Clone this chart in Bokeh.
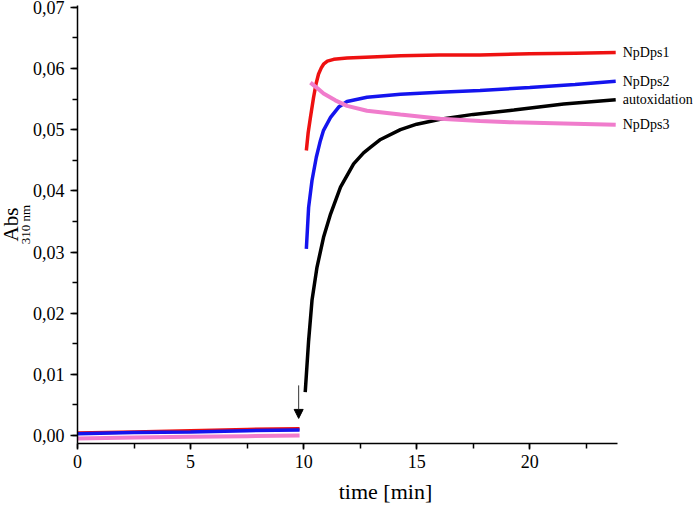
import math
from bokeh.plotting import figure
from bokeh.models import (Range1d, SingleIntervalTicker, CustomJSTickFormatter,
                          Label, Arrow, NormalHead, Title)
from bokeh.embed import file_html
from bokeh.resources import INLINE

nan = float("nan")

# ---- data (time in min, absorbance at 310 nm); NaN separates baseline and kinetic parts
red_t = [0, 2.5, 5, 7.5, 9.82, nan, 10.12, 10.2, 10.3, 10.44, 10.55, 10.66, 10.78, 10.88,
         11.05, 11.33, 11.92, 13, 14.3, 16, 17.8, 20, 22, 23.8]
red_abs = [0.0004, 0.0006, 0.0008, 0.0010, 0.0011, nan, 0.0466, 0.0495, 0.0520, 0.0553,
           0.0575, 0.0591, 0.0601, 0.0607, 0.0612, 0.0615, 0.0617, 0.0619, 0.0621,
           0.0622, 0.0622, 0.0624, 0.0625, 0.0626]

blue_t = [0, 2.5, 5, 7.5, 9.82, nan, 10.12, 10.22, 10.37, 10.56, 10.74, 10.88, 11.19,
          11.55, 11.92, 12.8, 14.28, 16, 17.8, 20, 22, 23.8]
blue_abs = [0.0003, 0.0005, 0.0006, 0.0008, 0.0009, nan, 0.0305, 0.0373, 0.0417, 0.0455,
            0.0482, 0.0499, 0.0520, 0.0537, 0.0546, 0.0553, 0.0558, 0.0561, 0.0564,
            0.0569, 0.0574, 0.0579]

black_t = [10.07, 10.22, 10.37, 10.59, 10.88, 11.19, 11.63, 12.21, 12.65, 12.95, 13.4,
           14.28, 15, 16.04, 17.5, 19.3, 21.5, 23.8]
black_abs = [0.0071, 0.0155, 0.0221, 0.0275, 0.0324, 0.0362, 0.0406, 0.0444, 0.0462,
             0.0471, 0.0484, 0.0500, 0.0509, 0.0517, 0.0525, 0.0532, 0.0542, 0.0549]

pink_t = [0, 2.5, 5, 7.5, 9.82, nan, 10.3, 10.6, 10.88, 11.4, 11.92, 12.8, 14.28, 16.04,
          17.8, 19.3, 21.5, 23.8]
pink_abs = [-0.0005, -0.0003, -0.0002, -0.0001, 0.0000, nan, 0.0577, 0.0568, 0.0559,
            0.0548, 0.0539, 0.0531, 0.0525, 0.0518, 0.0514, 0.0512, 0.0510, 0.0508]

series_names = ["NpDps1", "NpDps2", "autoxidation", "NpDps3"]

# injection arrow (time, abs start -> end)
arrow_t = 9.78
arrow_abs = [0.0082, 0.0028]

FONT = "Liberation Serif"
X_AXIS_END = 23.88

p = figure(width=693, height=510, output_backend="svg", toolbar_location=None,
           x_range=Range1d(0, 27.24), y_range=Range1d(-0.0013, 0.0703),
           min_border_left=77, min_border_right=0, min_border_top=5,
           min_border_bottom=67)
p.outline_line_color = None
p.grid.visible = False
p.background_fill_color = "white"
p.border_fill_color = "white"

p.line(black_t, black_abs, line_color="#000000", line_width=3.5)
p.line(red_t, red_abs, line_color="#ee1111", line_width=3.5)
p.line(blue_t, blue_abs, line_color="#1414ee", line_width=3.5)
p.line(pink_t, pink_abs, line_color="#f07ccc", line_width=4)

# axes
p.xaxis.ticker = SingleIntervalTicker(interval=5, num_minor_ticks=2)
p.xaxis.bounds = (0, X_AXIS_END)
p.yaxis.ticker = SingleIntervalTicker(interval=0.01, num_minor_ticks=2)
p.yaxis.formatter = CustomJSTickFormatter(code="return tick.toFixed(2).replace('.', ',');")
for ax in (p.xaxis[0], p.yaxis[0]):
    ax.axis_line_color = "black"
    ax.axis_line_width = 1.5
    ax.major_tick_line_color = "black"
    ax.minor_tick_line_color = "black"
    ax.major_tick_line_width = 1.5
    ax.minor_tick_line_width = 1.5
    ax.major_tick_in = 0
    ax.minor_tick_in = 0
    ax.major_label_text_font = FONT
    ax.major_label_text_font_size = "18px"
    ax.major_label_text_color = "black"
p.xaxis.major_tick_out = 6
p.xaxis.minor_tick_out = 5
p.xaxis.major_label_standoff = 5
p.xaxis.axis_label = "time [min]"
p.xaxis.axis_label_text_font = FONT
p.xaxis.axis_label_text_font_size = "22px"
p.xaxis.axis_label_text_font_style = "normal"
p.xaxis.axis_label_text_color = "black"
p.xaxis.axis_label_standoff = 8
p.yaxis.major_tick_out = 7
p.yaxis.minor_tick_out = 5
p.yaxis.major_label_standoff = 6

# y axis title: "Abs" with subscript "310 nm", as two side titles
p.add_layout(Title(text="310 nm", align="center", offset=16, standoff=-7,
                   text_font=FONT, text_font_size="13px", text_font_style="normal",
                   text_color="black"), "left")
p.add_layout(Title(text="Abs", align="center", offset=-27.5, standoff=-7,
                   text_font=FONT, text_font_size="21px", text_font_style="normal",
                   text_color="black"), "left")

# series labels at curve ends
for name, ts, vs in zip(series_names, [red_t, blue_t, black_t, pink_t],
                        [red_abs, blue_abs, black_abs, pink_abs]):
    p.add_layout(Label(x=ts[-1], y=vs[-1], x_offset=7, text=name, text_align="left",
                       text_baseline="middle", text_font=FONT, text_font_size="14px",
                       text_color="black"))

p.add_layout(Arrow(x_start=arrow_t, y_start=arrow_abs[0], x_end=arrow_t, y_end=arrow_abs[1],
                   line_color="#333333", line_width=1,
                   end=NormalHead(size=9, fill_color="black", line_color="black",
                                  line_width=1)))

open("out.html", "w").write(file_html(p, INLINE))
